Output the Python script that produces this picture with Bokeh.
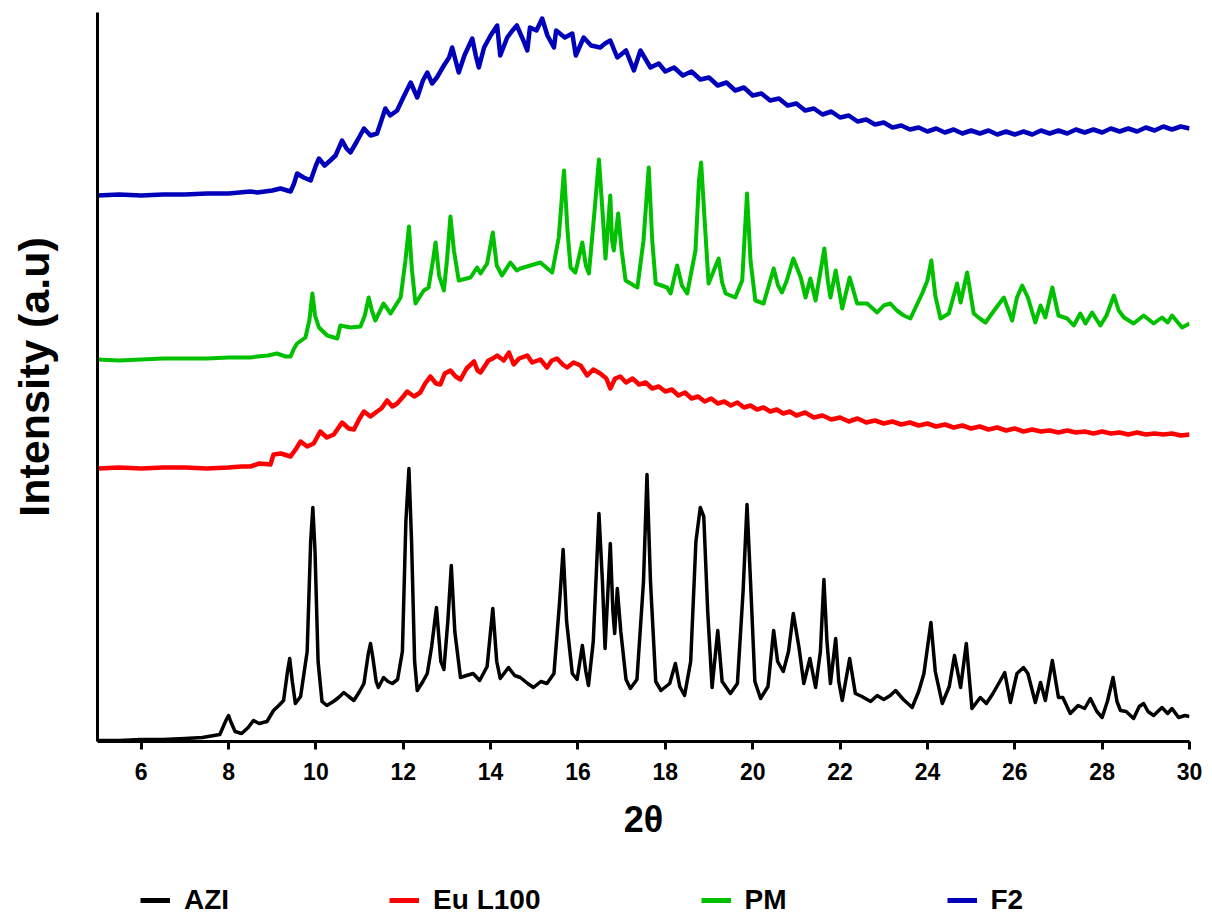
from bokeh.plotting import figure
from bokeh.models import Range1d, FixedTicker, Legend, LegendItem
from bokeh.layouts import column
from bokeh.embed import file_html
from bokeh.resources import INLINE

# ---- data (2-theta, intensity in a.u. above each trace's own baseline) ----
series_names = ["AZI", "Eu L100", "PM", "F2"]
series_colors = ["#000000", "#FF0000", "#00C000", "#0000BB"]
series_offsets = [0, 273, 381, 546]

azi_x = [5.0, 5.5, 6.0, 6.5, 7.0, 7.4, 7.8, 7.95, 8.0, 8.05, 8.15, 8.3, 8.45, 8.57, 8.7, 8.88,
         9.03, 9.15, 9.26, 9.35, 9.4, 9.46, 9.53, 9.65, 9.8, 9.88, 9.93, 9.98, 10.05, 10.14,
         10.25, 10.4, 10.52, 10.64, 10.75, 10.87, 11.0, 11.1, 11.2, 11.25, 11.3, 11.38, 11.43,
         11.55, 11.65, 11.75, 11.87, 11.98, 12.06, 12.13, 12.19, 12.26, 12.32, 12.45, 12.55,
         12.65, 12.76, 12.86, 12.93, 13.02, 13.1, 13.18, 13.31, 13.45, 13.6, 13.75, 13.92,
         14.05, 14.14, 14.22, 14.41, 14.55, 14.68, 14.85, 14.98, 15.15, 15.29, 15.45, 15.58,
         15.66, 15.74, 15.87, 15.98, 16.1, 16.18, 16.24, 16.35, 16.48, 16.56, 16.62, 16.74,
         16.8, 16.84, 16.9, 16.98, 17.1, 17.2, 17.35, 17.5, 17.58, 17.66, 17.78, 17.9, 18.1,
         18.23, 18.33, 18.44, 18.58, 18.7, 18.8, 18.88, 18.97, 19.07, 19.2, 19.3, 19.49, 19.65,
         19.78, 19.87, 19.95, 20.05, 20.18, 20.35, 20.48, 20.57, 20.7, 20.82, 20.93, 21.06,
         21.17, 21.31, 21.44, 21.55, 21.63, 21.7, 21.78, 21.9, 21.97, 22.05, 22.22, 22.35,
         22.5, 22.7, 22.85, 23.0, 23.15, 23.27, 23.45, 23.65, 23.8, 23.92, 24.08, 24.18, 24.34,
         24.5, 24.62, 24.76, 24.89, 25.02, 25.21, 25.35, 25.5, 25.67, 25.77, 25.9, 26.05, 26.2,
         26.3, 26.47, 26.59, 26.7, 26.86, 27.0, 27.1, 27.27, 27.45, 27.6, 27.73, 27.88, 28.0,
         28.12, 28.25, 28.34, 28.42, 28.55, 28.72, 28.85, 28.95, 29.05, 29.18, 29.37, 29.5,
         29.6, 29.75, 29.9, 30.0]
azi_y = [1, 1, 2, 2, 3, 4, 7, 22, 26, 20, 10, 8, 14, 21, 18, 20,
         31, 36, 41, 70, 83, 60, 38, 45, 90, 200, 234, 190, 80, 40,
         36, 40, 44, 49, 45, 41, 50, 58, 88, 98, 85, 60, 54,
         64, 60, 58, 62, 90, 220, 273, 200, 80, 51, 60, 68,
         95, 134, 80, 72, 120, 176, 110, 64, 66, 68, 61, 75,
         133, 80, 63, 74, 66, 64, 58, 54, 60, 58, 68, 140,
         192, 120, 68, 62, 96, 70, 56, 100, 228, 160, 93, 198,
         130, 108, 153, 110, 62, 53, 62, 160, 267, 160, 60, 51, 58,
         78, 55, 46, 80, 200, 234, 225, 130, 54, 111, 60, 48, 58,
         150, 237, 160, 60, 43, 55, 111, 80, 70, 90, 128, 94,
         58, 83, 54, 90, 162, 100, 58, 103, 60, 41, 83, 48,
         45, 40, 46, 42, 46, 51, 42, 34, 50, 68, 119, 70, 38,
         55, 86, 54, 98, 33, 44, 38, 48, 61, 69, 39, 68, 74,
         68, 39, 59, 41, 81, 44, 44, 28, 36, 33, 43, 30, 24,
         40, 64, 40, 31, 30, 23, 35, 38, 30, 26, 34, 28,
         33, 24, 26, 25]

pm_x = [5.0, 5.5, 6.0, 6.5, 7.0, 7.5, 8.0, 8.5, 8.66, 8.9, 9.11, 9.3, 9.42, 9.5, 9.57, 9.76,
        9.85, 9.92, 9.98, 10.07, 10.26, 10.49, 10.56, 10.79, 11.02, 11.12, 11.21, 11.28,
        11.36, 11.55, 11.71, 11.94, 12.05, 12.13, 12.2, 12.28, 12.47, 12.58, 12.68, 12.74,
        12.82, 12.93, 13.0, 13.08, 13.16, 13.27, 13.54, 13.69, 13.77, 13.92, 14.05, 14.14,
        14.26, 14.45, 14.6, 14.68, 14.91, 15.14, 15.3, 15.41, 15.56, 15.68, 15.76, 15.83,
        15.94, 16.1, 16.18, 16.25, 16.38, 16.48, 16.56, 16.63, 16.74, 16.78, 16.82, 16.92,
        17.0, 17.09, 17.36, 17.5, 17.62, 17.7, 17.78, 18.04, 18.12, 18.27, 18.38, 18.5,
        18.69, 18.77, 18.82, 18.9, 18.99, 19.22, 19.3, 19.38, 19.6, 19.76, 19.87, 19.95,
        20.06, 20.25, 20.48, 20.58, 20.67, 20.78, 20.93, 21.1, 21.21, 21.32, 21.44, 21.64,
        21.72, 21.78, 21.9, 22.05, 22.22, 22.39, 22.62, 22.85, 23.0, 23.15, 23.3, 23.46,
        23.61, 23.88, 24.0, 24.09, 24.18, 24.3, 24.49, 24.68, 24.76, 24.91, 25.06, 25.2,
        25.33, 25.56, 25.75, 25.94, 26.05, 26.17, 26.3, 26.47, 26.59, 26.7, 26.86, 27.0,
        27.2, 27.35, 27.5, 27.62, 27.77, 27.96, 28.1, 28.27, 28.38, 28.5, 28.72, 28.95,
        29.18, 29.37, 29.5, 29.6, 29.83, 30.0]
pm_y = [1, 0, 1, 2, 2, 2, 3, 3, 4, 5, 7, 4, 4, 12, 17, 23,
        40, 67, 45, 33, 25, 22, 35, 33, 34, 45, 63, 50,
        40, 57, 47, 63, 100, 134, 90, 57, 70, 73, 100, 118,
        85, 70, 100, 144, 110, 80, 83, 93, 87, 97, 128, 95,
        85, 98, 90, 92, 95, 98, 92, 88, 123, 190, 130, 93,
        88, 118, 95, 87, 150, 201, 150, 102, 165, 120, 110, 147,
        110, 80, 73, 120, 193, 120, 77, 73, 67, 95, 75, 67,
        110, 180, 198, 140, 77, 102, 78, 67, 63, 80, 167, 100,
        60, 57, 92, 75, 68, 80, 102, 83, 63, 82, 60, 112,
        80, 63, 90, 52, 83, 57, 57, 48, 55, 57, 50, 45,
        42, 67, 80, 100, 65, 42, 47, 77, 58, 88, 47, 42,
        38, 52, 63, 40, 63, 75, 63, 38, 55, 43, 73, 45,
        42, 35, 47, 37, 48, 35, 45, 65, 50, 43, 37, 45,
        37, 43, 38, 45, 33, 37]

eu_x = [5.0, 5.5, 6.0, 6.5, 7.0, 7.5, 8.0, 8.3, 8.5, 8.7, 8.96, 9.03, 9.2, 9.42, 9.55, 9.65,
        9.8, 9.95, 10.1, 10.25, 10.41, 10.6, 10.75, 10.87, 11.0, 11.1, 11.25, 11.4, 11.5,
        11.63, 11.75, 11.86, 12.0, 12.09, 12.25, 12.39, 12.5, 12.62, 12.75, 12.85, 12.95,
        13.08, 13.2, 13.31, 13.45, 13.62, 13.7, 13.77, 13.95, 14.05, 14.15, 14.3, 14.42,
        14.53, 14.65, 14.84, 14.95, 15.14, 15.29, 15.4, 15.52, 15.65, 15.75, 15.9, 16.06,
        16.21, 16.35, 16.51, 16.65, 16.74, 16.85, 16.97, 17.1, 17.25, 17.4, 17.55, 17.7,
        17.85, 18.0, 18.15, 18.3, 18.45, 18.6, 18.75, 18.9, 19.05, 19.2, 19.35, 19.5, 19.65,
        19.8, 19.95, 20.1, 20.25, 20.4, 20.55, 20.7, 20.85, 21.0, 21.2, 21.4, 21.6, 21.8,
        22.0, 22.2, 22.4, 22.6, 22.8, 23.0, 23.2, 23.4, 23.6, 23.8, 24.0, 24.2, 24.4, 24.6,
        24.8, 25.0, 25.2, 25.4, 25.6, 25.8, 26.0, 26.2, 26.4, 26.6, 26.8, 27.0, 27.2, 27.4,
        27.6, 27.8, 28.0, 28.2, 28.4, 28.6, 28.8, 29.0, 29.2, 29.4, 29.6, 29.8, 30.0]
eu_y = [0, 1, 0, 1, 1, 0, 1, 2, 2, 5, 4, 14, 15, 12, 20, 27,
        22, 25, 37, 31, 34, 46, 40, 39, 50, 57, 52, 57, 60,
        68, 62, 65, 72, 77, 72, 76, 85, 92, 85, 84, 95,
        98, 92, 89, 100, 107, 98, 96, 108, 110, 113, 108, 116,
        104, 110, 113, 106, 109, 101, 108, 110, 104, 101, 106, 103,
        93, 99, 95, 90, 80, 90, 92, 86, 90, 84, 86, 80,
        82, 77, 79, 73, 76, 70, 72, 67, 70, 65, 67, 63, 66,
        61, 63, 59, 61, 57, 59, 55, 57, 53, 56, 51, 53, 49,
        51, 47, 50, 46, 48, 45, 47, 44, 46, 43, 45, 42, 44, 41,
        43, 40, 42, 39, 41, 38, 40, 37, 39, 37, 38, 36, 38, 36,
        37, 35, 37, 35, 36, 34, 36, 34, 35, 34, 35, 33, 34]

f2_x = [5.0, 5.5, 6.0, 6.5, 7.0, 7.51, 8.0, 8.5, 8.66, 9.0, 9.19, 9.42, 9.5, 9.57, 9.72, 9.88,
        10.0, 10.07, 10.2, 10.33, 10.45, 10.6, 10.7, 10.79, 10.95, 11.1, 11.25, 11.4, 11.5,
        11.59, 11.7, 11.86, 12.0, 12.17, 12.32, 12.45, 12.55, 12.66, 12.77, 12.93, 13.05,
        13.12, 13.27, 13.4, 13.58, 13.66, 13.73, 13.85, 14.0, 14.15, 14.22, 14.38, 14.5,
        14.6, 14.75, 14.84, 14.9, 15.05, 15.18, 15.3, 15.45, 15.5, 15.7, 15.87, 15.95, 16.13,
        16.3, 16.51, 16.62, 16.74, 16.9, 17.1, 17.28, 17.43, 17.66, 17.85, 18.0, 18.2, 18.4,
        18.6, 18.8, 19.0, 19.2, 19.4, 19.6, 19.8, 20.0, 20.2, 20.4, 20.6, 20.8, 21.0, 21.2,
        21.4, 21.6, 21.8, 22.0, 22.2, 22.4, 22.6, 22.8, 23.0, 23.2, 23.4, 23.6, 23.8, 24.0,
        24.2, 24.4, 24.6, 24.8, 25.0, 25.2, 25.4, 25.6, 25.8, 26.0, 26.2, 26.4, 26.6, 26.8,
        27.0, 27.2, 27.4, 27.6, 27.8, 28.0, 28.2, 28.4, 28.6, 28.8, 29.0, 29.2, 29.4, 29.6,
        29.8, 30.0]
f2_y = [0, 1, 0, 1, 1, 2, 2, 4, 3, 5, 7, 4, 12, 22, 18, 15,
        30, 37, 30, 35, 40, 55, 47, 43, 55, 67, 60, 62, 75,
        87, 80, 85, 98, 113, 98, 115, 123, 112, 118, 130, 138,
        148, 123, 140, 157, 140, 128, 148, 160, 170, 140, 158, 165,
        170, 155, 145, 168, 165, 177, 160, 148, 165, 158, 162, 140, 158,
        150, 148, 152, 155, 138, 145, 125, 145, 128, 132, 124, 128, 120,
        124, 116, 118, 110, 113, 105, 108, 100, 102, 95, 97, 90, 92, 85,
        87, 81, 84, 78, 80, 74, 76, 71, 73, 68, 70, 66, 68, 64,
        67, 63, 66, 62, 65, 62, 65, 61, 64, 61, 64, 61, 65, 62,
        65, 62, 66, 63, 66, 63, 67, 64, 67, 64, 68, 65, 69, 66,
        69, 67]

x_ticks = [6, 8, 10, 12, 14, 16, 18, 20, 22, 24, 26, 28, 30]
line_widths = [3.5, 4.5, 4, 4.5]

FONT = "Liberation Sans"

# ---- main figure ----
p = figure(width=1204, height=846, output_backend="svg", toolbar_location=None,
           x_range=Range1d(5, 30), y_range=Range1d(0, 729))
p.frame_width = 1092
p.frame_height = 729
p.min_border_left = 97
p.min_border_top = 12
p.min_border_right = 15
p.min_border_bottom = 105
p.outline_line_color = None
p.xgrid.visible = False
p.ygrid.visible = False

xs = [azi_x, eu_x, pm_x, f2_x]
ys = [azi_y, eu_y, pm_y, f2_y]
for color, off, xx, yy, lw in zip(series_colors, series_offsets, xs, ys, line_widths):
    p.line(xx, [v + off for v in yy], line_color=color, line_width=lw, line_join="round")

ax = p.xaxis[0]
ax.ticker = FixedTicker(ticks=x_ticks)
ax.axis_line_width = 3
ax.axis_line_color = "black"
ax.major_tick_line_width = 3
ax.major_tick_out = 8
ax.major_tick_in = 0
ax.minor_tick_line_color = None
ax.major_label_text_font = FONT
ax.major_label_text_font_style = "bold"
ax.major_label_text_font_size = "23px"
ax.major_label_text_color = "black"
ax.major_label_standoff = 13
ax.axis_label = "2θ"
ax.axis_label_text_font = FONT
ax.axis_label_text_font_style = "bold"
ax.axis_label_text_font_size = "36px"
ax.axis_label_text_color = "black"
ax.axis_label_standoff = 16

ay = p.yaxis[0]
ay.ticker = FixedTicker(ticks=[])
ay.axis_line_width = 3
ay.axis_line_color = "black"
ay.major_tick_line_color = None
ay.minor_tick_line_color = None
ay.major_label_text_font_size = "0px"
ay.axis_label = "Intensity (a.u)"
ay.axis_label_text_font = FONT
ay.axis_label_text_font_style = "bold"
ay.axis_label_text_font_size = "43px"
ay.axis_label_text_color = "black"
ay.axis_label_standoff = 40

# ---- legend strip below (frame aligned with the main plot's frame) ----
p2 = figure(width=1204, height=70, output_backend="svg", toolbar_location=None,
            x_range=Range1d(0, 1), y_range=Range1d(0, 1))
p2.min_border_left = 0
p2.min_border_right = 0
p2.min_border_top = 0
p2.min_border_bottom = 0
p2.axis.visible = False
p2.xgrid.visible = False
p2.ygrid.visible = False
p2.outline_line_color = None

nan = float("nan")
proxies = [p2.line(x=[nan], y=[nan], line_color=c, line_width=5) for c in series_colors]
legend = Legend(items=[LegendItem(label=n, renderers=[r]) for n, r in zip(series_names, proxies)],
                orientation="horizontal", location=(43, 0),
                spacing=160, padding=0, margin=0,
                glyph_width=30, glyph_height=24, label_height=24, label_standoff=14,
                label_text_font=FONT, label_text_font_style="bold",
                label_text_font_size="28px", label_text_color="black",
                border_line_color=None, background_fill_alpha=0)
p2.add_layout(legend, "center")

open("out.html", "w").write(file_html(column(p, p2), INLINE))
